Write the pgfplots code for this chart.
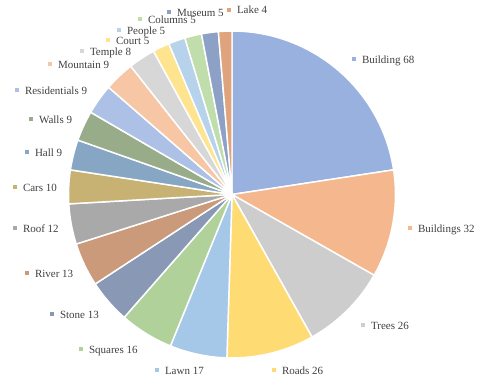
\documentclass[border=0pt]{standalone}
\usepackage{fontspec}
\setmainfont{Liberation Serif}
\usepackage{pgfplots}
\usepackage{pgfplotstable}
\pgfplotsset{compat=1.18}

% slice colours (Office palette, lightened to mimic the dotted pattern fill)
\definecolor{b0}{HTML}{4472C4}\definecolor{b1}{HTML}{ED7D31}
\definecolor{b2}{HTML}{A5A5A5}\definecolor{b3}{HTML}{FFC000}
\definecolor{b4}{HTML}{5B9BD5}\definecolor{b5}{HTML}{70AD47}
\definecolor{b6}{HTML}{264478}\definecolor{b7}{HTML}{9E480E}
\definecolor{b8}{HTML}{636363}\definecolor{b9}{HTML}{997300}
\definecolor{b10}{HTML}{255E91}\definecolor{b11}{HTML}{43682B}
\definecolor{b12}{HTML}{698ED0}\definecolor{b13}{HTML}{F1975A}
\definecolor{b14}{HTML}{B7B7B7}\definecolor{b15}{HTML}{FFCD33}
\definecolor{b16}{HTML}{7CAFDD}\definecolor{b17}{HTML}{8CC168}
\definecolor{b18}{HTML}{2F5597}\definecolor{b19}{HTML}{C55A11}
\pgfplotsinvokeforeach{0,...,19}{\colorlet{pc#1}{b#1!55!white}}
\definecolor{lblgray}{HTML}{404040}

% value, label marker position (px, from top-left)
\pgfplotstableread{
name value mx my
Building 68 352 59
Buildings 32 408 228
Trees 26 361 325
Roads 26 272 370
Lawn 17 155 370
Squares 16 79 349
Stone 13 50 314
River 13 25 273
Roof 12 13 228
Cars 10 13 187
Hall 9 25 152
Walls 9 29 119
Residentials 9 15 90
Mountain 9 48 64
Temple 8 80 51
Court 5 106 40
People 5 117 30
Columns 5 138 19
Museum 5 167 12
Lake 4 227 9.5
}\piedata

\begin{document}
\begin{tikzpicture}
\begin{axis}[
  hide axis, scale only axis, clip=false,
  width=361.5pt, height=288.75pt,
  xmin=0, xmax=482, ymin=0, ymax=385,
]
\addplot[draw=none] coordinates {(0,0) (482,385)};
\pgfplotsextra{
  \gdef\total{0}
  \foreach \i in {0,...,19}{
    \pgfplotstablegetelem{\i}{value}\of\piedata
    \pgfmathsetmacro\t{\total+\pgfplotsretval}\xdef\total{\t}
  }
  \pgfmathsetmacro\dpu{360/\total}\global\let\dpu\dpu
  \gdef\cumsum{0}
  \foreach \i in {0,...,19}{
    \pgfplotstablegetelem{\i}{value}\of\piedata \let\v\pgfplotsretval
    \pgfmathsetmacro\a{90-\dpu*\cumsum}
    \pgfmathsetmacro\t{\cumsum+\v}\xdef\cumsum{\t}
    \pgfmathsetmacro\b{90-\dpu*\cumsum}
    \fill[fill=pc\i, draw=white, line width=1.1pt, line join=round]
      (axis cs:232,190.5) -- ++(\a:122.6pt) arc[start angle=\a, end angle=\b, radius=122.6pt] -- cycle;
  }
  \foreach \i in {0,...,19}{
    \pgfplotstablegetelem{\i}{name}\of\piedata \let\lname\pgfplotsretval
    \pgfplotstablegetelem{\i}{value}\of\piedata \let\v\pgfplotsretval
    \pgfplotstablegetelem{\i}{mx}\of\piedata \let\mx\pgfplotsretval
    \pgfplotstablegetelem{\i}{my}\of\piedata \let\my\pgfplotsretval
    \pgfmathsetmacro\ly{385-\my-4.3}
    \node[anchor=base west, inner sep=0pt, outer sep=0pt, text=lblgray,
          font=\fontsize{8.25pt}{9.9pt}\selectfont]
      at (axis cs:\mx,\ly) {\textcolor{pc\i}{\rule[1.5pt]{3pt}{3pt}}\hspace{4.5pt}\lname\ \v};
  }
}
\end{axis}
\end{tikzpicture}
\end{document}
